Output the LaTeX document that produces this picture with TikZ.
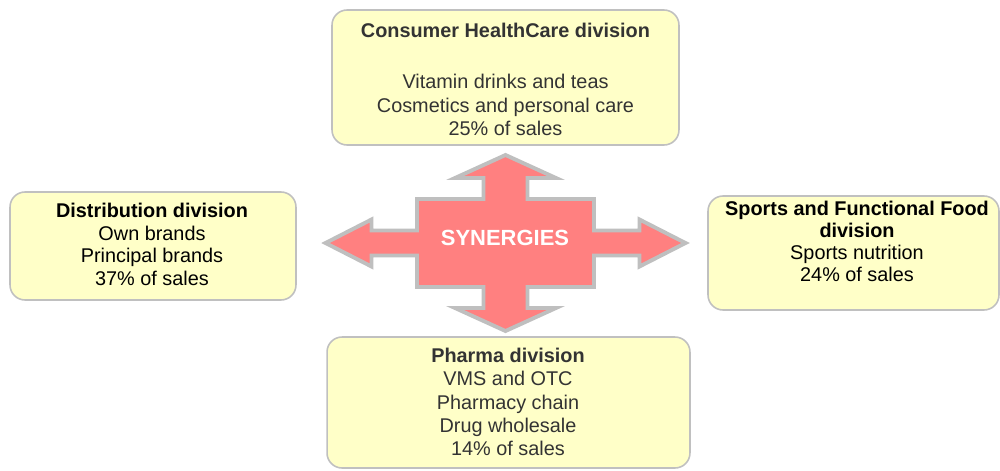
\documentclass[tikz,border=0pt]{standalone}
\usepackage{fontspec}
\setmainfont{Liberation Sans}
\definecolor{boxfill}{HTML}{FFFFC8}
\definecolor{boxline}{HTML}{C0C0C0}
\definecolor{synfill}{HTML}{FF8080}
\definecolor{synline}{HTML}{BFBFBF}
\definecolor{textgray}{HTML}{333333}

\begin{document}
\begin{tikzpicture}[x=0.02cm, y=-0.02cm, line join=miter,
	divbox/.style={draw=boxline, fill=boxfill, line width=0.9pt, rounded corners=0.3cm, inner sep=0pt},
	divtext/.style={align=center, inner sep=0pt, font=\fontsize{11.3}{13.4}\selectfont},
	synarrow/.style={draw=synline, fill=synfill, line width=2.2pt}]
		
		\useasboundingbox (0,0) rectangle (1000,470);
		
		% Division boxes
		\node[divbox, minimum width=6.94cm, minimum height=2.70cm] (chc) at (505.5,77.5) {};
		\node[divbox, minimum width=5.72cm, minimum height=2.16cm] (dist) at (153,246) {};
		\node[divbox, minimum width=5.82cm, minimum height=2.28cm] (sports) at (853.5,253) {};
		\node[divbox, minimum width=7.26cm, minimum height=2.62cm] (pharma) at (508.5,402.5) {};
		
		% Four-way arrow in the middle
		\begin{scope}[shift={(505.5,243)}]
			\draw[synarrow]
			(0,-88) -- (50.5,-65) -- (22,-65) -- (22,-44) -- (88.5,-44) -- (88.5,-12.5)
			-- (134,-12.5) -- (134,-23.5) -- (180,0) -- (134,23.5) -- (134,12.5) -- (88.5,12.5)
			-- (88.5,44) -- (22,44) -- (22,65) -- (50.5,65) -- (0,88) -- (-50.5,65)
			-- (-22,65) -- (-22,44) -- (-88.5,44) -- (-88.5,12.5) -- (-134,12.5) -- (-134,23.5)
			-- (-180,0) -- (-134,-23.5) -- (-134,-12.5) -- (-88.5,-12.5) -- (-88.5,-44)
			-- (-22,-44) -- (-22,-65) -- (-50.5,-65) -- cycle;
		\end{scope}
		\node[text=white, font=\fontsize{12.5}{15}\selectfont\bfseries] (syn) at (505,238) {SYNERGIES};
		
		% Labels
		\node[divtext, text=textgray] (chctext) at (505.5,79.5)
		{\textbf{Consumer HealthCare division}\\[16pt] Vitamin drinks and teas\\ Cosmetics and personal care\\ 25\% of sales};
		\node[divtext, font=\fontsize{11.3}{12.9}\selectfont] (disttext) at (152,244.5)
		{\textbf{Distribution division}\\ Own brands\\ Principal brands\\ 37\% of sales};
		\node[divtext, font=\fontsize{11.3}{12.5}\selectfont] (sportstext) at (857,241)
		{\textbf{Sports and Functional Food}\\ \textbf{division}\\ Sports nutrition\\ 24\% of sales};
		\node[divtext, text=textgray, font=\fontsize{11.3}{13.2}\selectfont] (pharmatext) at (508,402)
		{\textbf{Pharma division}\\ VMS and OTC\\ Pharmacy chain\\ Drug wholesale\\ 14\% of sales};
		
	\end{tikzpicture}
\end{document}
